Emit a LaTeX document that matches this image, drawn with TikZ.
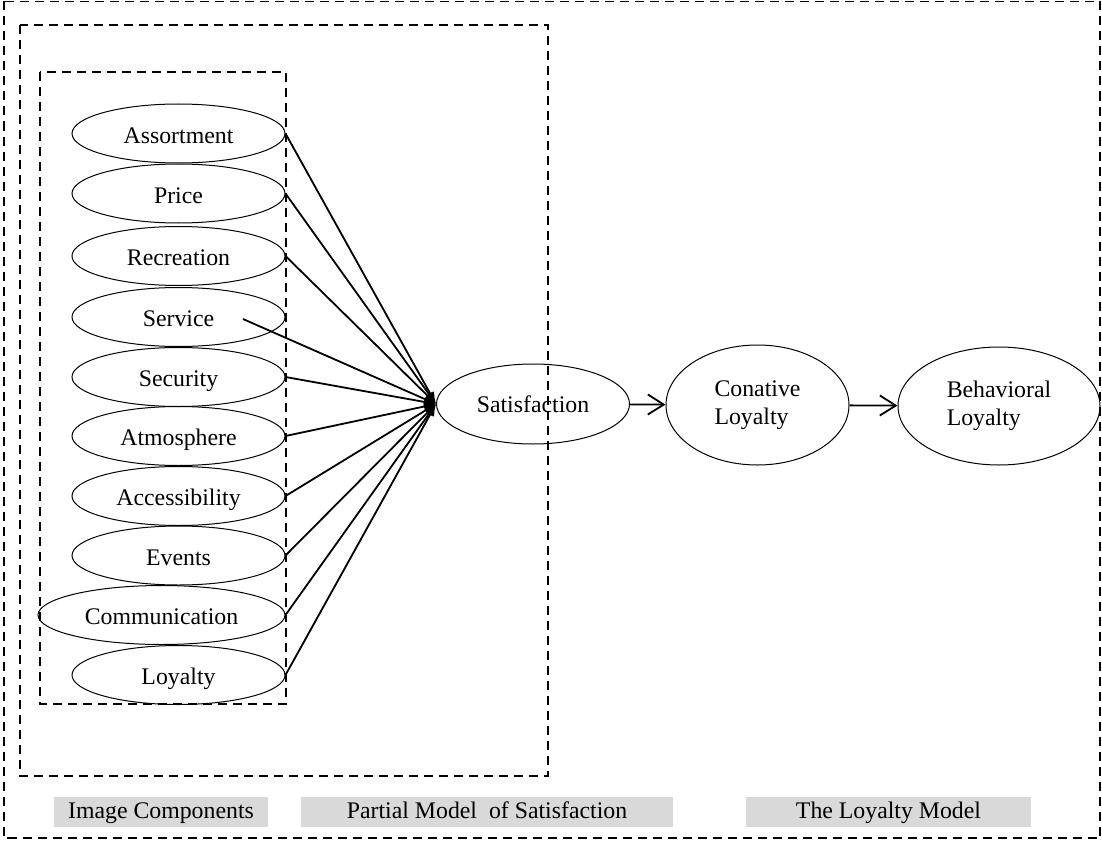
\documentclass[tikz,border=0pt]{standalone}
\usepackage{fontspec}
\setmainfont{Liberation Serif}
\usetikzlibrary{arrows,arrows.meta,shapes.geometric,positioning}

\begin{document}
\begin{tikzpicture}[x=1pt,y=-1pt]
			\definecolor{captionGrey}{RGB}{217, 217, 217}
			\tikzstyle{frame}=[draw, line width=1.5pt, dash pattern=on 9pt off 6pt]
			\tikzstyle{factor}=[ellipse, draw, line width=1pt, minimum width=213pt, minimum height=59pt, inner sep=0pt, text height=19pt, text depth=0pt, font=\fontsize{23.8}{27.5}\selectfont]
			\tikzstyle{construct}=[ellipse, draw, line width=1pt, inner sep=0pt, align=left, font=\fontsize{23.8}{27.5}\selectfont]
			\tikzstyle{caption}=[fill=captionGrey, minimum height=30pt, inner sep=0pt, text height=17pt, text depth=5pt, font=\fontsize{23.8}{27.5}\selectfont]

			\useasboundingbox (0,0) rectangle (1102,840);

			\draw [frame] (4,1.5) rectangle (1100,838);
			\draw [frame, line width=2pt] (20,25) rectangle (548,776);
			\draw [frame, line width=2pt] (40,72) rectangle (286,704);

			\node [factor] (assortment) at (178.5,133.5) {Assortment};
			\node [factor] (price) at (178.5,193.5) {Price};
			\node [factor] (recreation) at (178.5,256) {Recreation};
			\node [factor] (service) at (178.5,317) {Service};
			\node [factor] (security) at (178.5,377) {Security};
			\node [factor] (atmosphere) at (178.5,436) {Atmosphere};
			\node [factor] (accessibility) at (178.5,496) {Accessibility};
			\node [factor] (events) at (178.5,555.5) {Events};
			\node [factor, minimum width=247pt] (communication) at (161.5,615) {Communication};
			\node [factor] (loyalty) at (178.5,675) {Loyalty};
			\coordinate (serviceTail) at (243,319);

			\node [construct, minimum width=193pt, minimum height=80pt] (satisfaction) at (533,404) {Satisfaction};
			\node [construct, minimum width=183pt, minimum height=120pt] (conative) at (757.5,405) {Conative\\Loyalty};
			\node [construct, minimum width=202pt, minimum height=118pt] (behavioral) at (999,406) {Behavioral\\Loyalty};

			\node [caption, minimum width=214pt] (imageCap) at (161,812) {Image Components};
			\node [caption, minimum width=372pt] (partialCap) at (487,812) {Partial Model~ of Satisfaction};
			\node [caption, minimum width=285pt] (loyaltyCap) at (888.5,812) {The Loyalty Model};

			\path[-{Latex[length=12pt,width=9pt]}, line width=1.8pt]
			(assortment.east) edge (satisfaction.west)
			(price.east) edge (satisfaction.west)
			(recreation.east) edge (satisfaction.west)
			(serviceTail) edge (satisfaction.west)
			(security.east) edge (satisfaction.west)
			(atmosphere.east) edge (satisfaction.west)
			(accessibility.east) edge (satisfaction.west)
			(events.east) edge (satisfaction.west)
			(communication.east) edge (satisfaction.west)
			(loyalty.east) edge (satisfaction.west);

			\path[-{Straight Barb[length=16pt,width=20pt]}, line width=1.8pt]
			(satisfaction) edge (conative)
			(conative) edge (behavioral);
		\end{tikzpicture}
\end{document}
